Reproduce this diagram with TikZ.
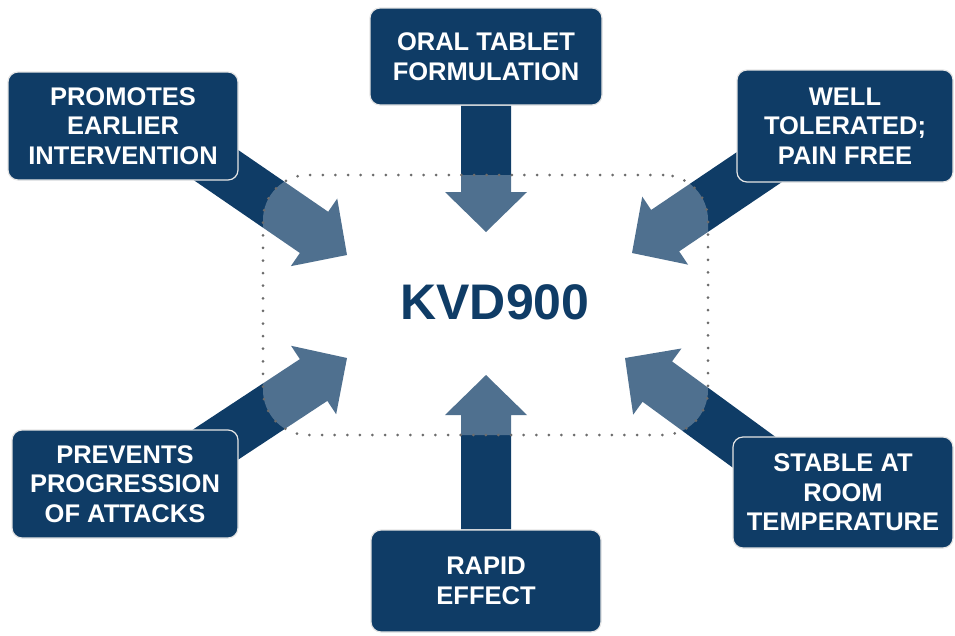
\documentclass[tikz,border=0pt]{standalone}
\usepackage{fontspec}
\setmainfont{Liberation Sans}
\usetikzlibrary{calc,backgrounds}

\definecolor{kvdblue}{RGB}{15,60,102}

\tikzset{
  featbox/.style={draw=white!80!gray, line width=1.2pt, fill=kvdblue, rounded corners=10pt,
    text=white, align=center, inner sep=0pt,
    font=\fontsize{25.5}{29.5}\selectfont\bfseries},
  hubframe/.style={draw=gray!85!black, line width=3pt, dash pattern=on 0pt off 12.6pt, line cap=round,
    fill=white, fill opacity=0.27, rounded corners=45pt,
    minimum width=445pt, minimum height=260pt},
}

% fat block arrow, from #1 to the tip #2
\newcommand{\fatarrow}[2]{%
  \coordinate (hb) at ($(#2)!40pt!(#1)$);
  \fill[kvdblue] ($(#1)!25pt!90:(#2)$) -- ($(hb)!25pt!90:(#2)$) -- ($(hb)!41pt!90:(#2)$) -- (#2)
    -- ($(hb)!41pt!-90:(#2)$) -- ($(hb)!25pt!-90:(#2)$) -- ($(#1)!25pt!-90:(#2)$) -- cycle;}

\begin{document}
\begin{tikzpicture}[x=1pt, y=-1pt]
  \useasboundingbox (0,0) rectangle (955,635);

  % feature boxes
  \node[featbox, minimum width=232pt, minimum height=97pt] (oral) at (486,56.5) {ORAL TABLET\\FORMULATION};
  \node[featbox, minimum width=230pt, minimum height=108pt] (prom) at (123,126) {PROMOTES\\EARLIER\\INTERVENTION};
  \node[featbox, minimum width=216pt, minimum height=112pt] (well) at (845,126) {WELL\\TOLERATED;\\PAIN FREE};
  \node[featbox, minimum width=226pt, minimum height=108pt] (prev) at (125,484) {PREVENTS\\PROGRESSION\\OF ATTACKS};
  \node[featbox, minimum width=220pt, minimum height=111pt] (stab) at (843,492.5) {STABLE AT\\ROOM\\TEMPERATURE};
  \node[featbox, minimum width=230pt, minimum height=102pt] (rapid) at (486,581) {RAPID\\EFFECT};

  % arrow tips round the frame
  \coordinate (tipN) at (486,232);
  \coordinate (tipS) at (486,375);
  \coordinate (tipNW) at (347,255);
  \coordinate (tipNE) at (632,253);
  \coordinate (tipSW) at (347,358);
  \coordinate (tipSE) at (625,358);
  \coordinate (fromNW) at ($(prom.south east)!-60pt!(tipNW)$);
  \coordinate (fromNE) at ($(well.south west)!-60pt!(tipNE)$);
  \coordinate (fromSW) at ($(prev.north east)!-60pt!(tipSW)$);
  \coordinate (fromSE) at ($(stab.north west)!-60pt!(tipSE)$);

  \begin{scope}[on background layer]
    \fatarrow{oral.south}{tipN}
    \fatarrow{rapid.north}{tipS}
    \fatarrow{fromNW}{tipNW}
    \fatarrow{fromNE}{tipNE}
    \fatarrow{fromSW}{tipSW}
    \fatarrow{fromSE}{tipSE}
    \node[hubframe] (frame) at (485.5,305) {};
  \end{scope}

  % centre label
  \node[text=kvdblue, font=\fontsize{50}{60}\selectfont\bfseries] (kvd) at (495,302) {KVD900};
\end{tikzpicture}
\end{document}
